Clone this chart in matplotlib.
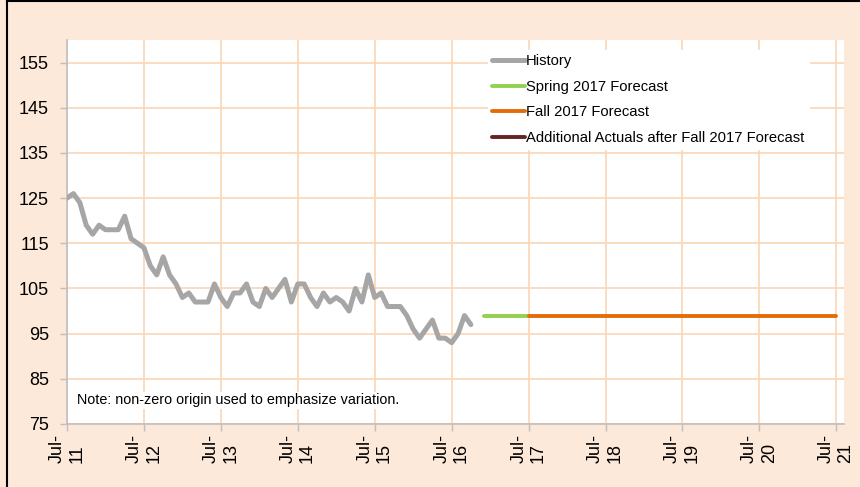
import numpy as np
import matplotlib.pyplot as plt
from matplotlib.lines import Line2D

plt.rcParams['font.family'] = ['Liberation Sans', 'DejaVu Sans']

# monthly index, 0 = Jul-11
history = [125, 126, 124, 119, 117, 119, 118, 118, 118, 121, 116, 115,
           114, 110, 108, 112, 108, 106, 103, 104, 102, 102, 102, 106,
           103, 101, 104, 104, 106, 102, 101, 105, 103, 105, 107, 102,
           106, 106, 103, 101, 104, 102, 103, 102, 100, 105, 102, 108,
           103, 104, 101, 101, 101, 99, 96, 94, 96, 98, 94, 94,
           93, 95, 99, 97]
spring_months = [65, 72]
spring_vals = [99, 99]
fall_months = [72, 120]
fall_vals = [99, 99]
tick_months = list(range(0, 121, 12))
tick_labels = ['Jul-\n%d' % y for y in range(11, 22)]
yticks = list(range(75, 156, 10))

bg = '#FDE9D9'
grid_c = '#FCD5B4'
axis_c = '#BFBFBF'

fig = plt.figure(figsize=(8.6, 4.87), dpi=100, facecolor=bg)
ax = fig.add_axes([0.0779, 0.1294, 0.9035, 0.7885])
ax.set_facecolor('white')

ax.plot(range(len(history)), history, color='#A6A6A6', lw=3.6,
        solid_capstyle='round', label='History', zorder=3)
ax.plot(spring_months, spring_vals, color='#92D050', lw=2.8,
        solid_capstyle='round', label='Spring 2017 Forecast', zorder=3)
ax.plot(fall_months, fall_vals, color='#E36C09', lw=2.8,
        solid_capstyle='round', label='Fall 2017 Forecast', zorder=4)
extra = Line2D([], [], color='#632523', lw=2.8, solid_capstyle='round',
               label='Additional Actuals after Fall 2017 Forecast')

ax.set_xlim(0, 121.2)
ax.set_ylim(75, 160)
ax.set_yticks(yticks)
ax.set_xticks(tick_months)
ax.set_xticklabels(tick_labels, rotation=90, va='top', ha='center',
                   multialignment='left')
ax.tick_params(axis='both', labelsize=13, color=axis_c, length=5,
               width=1, labelcolor='black')
ax.tick_params(axis='y', pad=8)
ax.tick_params(axis='x', pad=2)
ax.grid(True, color=grid_c, lw=1.2, zorder=0)
ax.set_axisbelow(True)
for s in ['top', 'right']:
    ax.spines[s].set_visible(False)
for s in ['left', 'bottom']:
    ax.spines[s].set_color(axis_c)
    ax.spines[s].set_linewidth(1.2)

handles, labels = ax.get_legend_handles_labels()
handles.append(extra)
labels.append(extra.get_label())
leg = ax.legend(handles, labels, loc='upper left',
                bbox_to_anchor=(0.532, 0.993), frameon=True, fancybox=False,
                edgecolor='white', facecolor='white', framealpha=1,
                fontsize=10.6, handlelength=2.2, handletextpad=0.1,
                labelspacing=0.78, borderpad=0.3)

ax.text(0.013, 0.062, 'Note: non-zero origin used to emphasize variation.',
        transform=ax.transAxes, fontsize=10.4, va='center', ha='left',
        bbox=dict(facecolor='white', edgecolor='none', pad=1))

# outer border (top and left)
fig.add_artist(Line2D([0.008, 0.008], [0, 0.997], color='black', lw=1.5,
                      transform=fig.transFigure))
fig.add_artist(Line2D([0.008, 1], [0.997, 0.997], color='black', lw=1.5,
                      transform=fig.transFigure))

fig.savefig('out.png', dpi=100, facecolor=bg)
